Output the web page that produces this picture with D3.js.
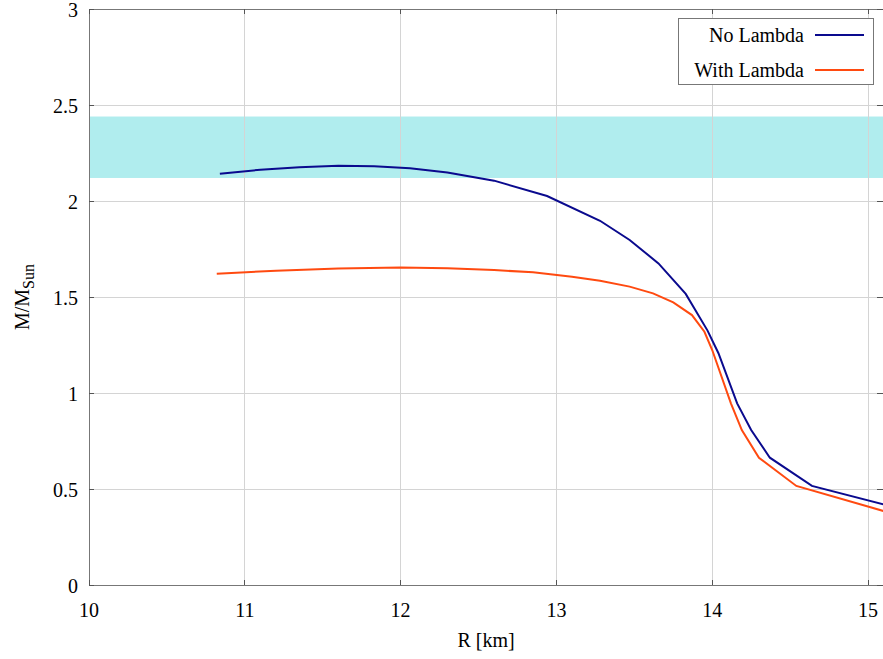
<!DOCTYPE html>
<html><head><meta charset="utf-8">
<script src="https://cdn.jsdelivr.net/npm/d3@7"></script>
<style>html,body{margin:0;padding:0;background:#fff;}svg{display:block;font-family:"Liberation Serif","DejaVu Serif",serif;}</style>
</head><body><svg id="c" width="883" height="659"></svg>
<script>
const xTicks = [10, 11, 12, 13, 14, 15];
const yTicks = [0, 0.5, 1, 1.5, 2, 2.5, 3];
const yTickLabels = ["0", "0.5", "1", "1.5", "2", "2.5", "3"];
const seriesNames = ["No Lambda", "With Lambda"];
const noLambdaR = [10.84, 11.1, 11.35, 11.6, 11.83, 12.06, 12.3, 12.6, 12.94, 13.28, 13.47, 13.655, 13.83, 13.97, 14.04, 14.16, 14.25, 14.37, 14.64, 15.1];
const noLambdaM = [2.142, 2.163, 2.176, 2.184, 2.181, 2.170, 2.149, 2.106, 2.026, 1.897, 1.797, 1.675, 1.516, 1.325, 1.207, 0.946, 0.807, 0.663, 0.516, 0.420];
const withLambdaR = [10.82, 11.2, 11.6, 12.0, 12.3, 12.6, 12.85, 13.1, 13.28, 13.47, 13.62, 13.75, 13.87, 13.95, 14.0, 14.12, 14.19, 14.30, 14.54, 15.1];
const withLambdaM = [1.621, 1.637, 1.648, 1.653, 1.650, 1.640, 1.629, 1.606, 1.585, 1.554, 1.519, 1.472, 1.406, 1.319, 1.224, 0.946, 0.807, 0.663, 0.516, 0.385];
const bandLow = 2.12, bandHigh = 2.44;

const svg = d3.select("#c");
const L = 89, R = 883.6, T = 9, B = 585;
const x = d3.scaleLinear().domain([10, 15.1]).range([L, R]);
const y = d3.scaleLinear().domain([0, 3]).range([B, T]);
const W = 883, fs = 20;

svg.append("defs").append("clipPath").attr("id","pc").append("rect")
  .attr("x", L).attr("y", T).attr("width", W - L).attr("height", B - T);

// band
svg.append("rect").attr("x", L).attr("width", W - L)
  .attr("y", y(bandHigh)).attr("height", y(bandLow) - y(bandHigh))
  .attr("fill", "#b0edee");

// grid
svg.append("g").selectAll("line").data(xTicks.slice(1)).join("line")
  .attr("x1", d => x(d)).attr("x2", d => x(d)).attr("y1", T).attr("y2", B)
  .attr("stroke", "#d4d4d4").attr("stroke-width", 1).attr("shape-rendering","crispEdges");
svg.append("g").selectAll("line").data(yTicks.slice(1, -1)).join("line")
  .attr("y1", d => y(d)).attr("y2", d => y(d)).attr("x1", L).attr("x2", W)
  .attr("stroke", "#d4d4d4").attr("stroke-width", 1).attr("shape-rendering","crispEdges");

// axes frame
const frame = svg.append("g").attr("stroke", "#777").attr("stroke-width", 1).attr("shape-rendering","crispEdges");
frame.append("line").attr("x1", L).attr("x2", W).attr("y1", B).attr("y2", B);
frame.append("line").attr("x1", L).attr("x2", W).attr("y1", T).attr("y2", T);
frame.append("line").attr("x1", L).attr("x2", L).attr("y1", T).attr("y2", B);
// inward ticks
const tk = svg.append("g").attr("stroke", "#555").attr("stroke-width", 1).attr("shape-rendering","crispEdges");
xTicks.forEach(v => {
  tk.append("line").attr("x1", x(v)).attr("x2", x(v)).attr("y1", B).attr("y2", B - 5);
  tk.append("line").attr("x1", x(v)).attr("x2", x(v)).attr("y1", T).attr("y2", T + 5);
});
yTicks.forEach(v => {
  tk.append("line").attr("x1", L).attr("x2", L + 5).attr("y1", y(v)).attr("y2", y(v));
  tk.append("line").attr("x1", W - 6).attr("x2", W).attr("y1", y(v)).attr("y2", y(v));
});

// tick labels
svg.append("g").selectAll("text").data(xTicks).join("text")
  .attr("x", d => x(d)).attr("y", 617).attr("text-anchor", "middle")
  .attr("font-size", fs).attr("fill", "#000").text(d => d);
svg.append("g").selectAll("text").data(yTicks).join("text")
  .attr("x", 78).attr("y", d => y(d)).attr("dy", "0.4em").attr("text-anchor", "end")
  .attr("font-size", fs).attr("fill", "#000").text((d, i) => yTickLabels[i]);

// axis titles
svg.append("text").attr("x", 486).attr("y", 647).attr("text-anchor", "middle")
  .attr("font-size", fs).text("R [km]");
const yt = svg.append("text").attr("transform", "translate(29," + 297 + ") rotate(-90)")
  .attr("text-anchor", "middle").attr("font-size", fs);
yt.append("tspan").text("M/M");
yt.append("tspan").attr("dy", 5).attr("font-size", 16).text("Sun");

// lines
const line = d3.line().x(d => x(d[0])).y(d => y(d[1]));
const g = svg.append("g").attr("clip-path", "url(#pc)");
g.append("path").datum(noLambdaR.map((r, i) => [r, noLambdaM[i]]))
  .attr("d", line).attr("fill", "none").attr("stroke", "#0a0a8e").attr("stroke-width", 2);
g.append("path").datum(withLambdaR.map((r, i) => [r, withLambdaM[i]]))
  .attr("d", line).attr("fill", "none").attr("stroke", "#ff4a10").attr("stroke-width", 2);

// legend
const lg = svg.append("g");
lg.append("rect").attr("x", 678.5).attr("y", 18.5).attr("width", 195).attr("height", 66)
  .attr("fill", "#fff").attr("stroke", "#777").attr("stroke-width", 1);
const colors = ["#0a0a8e", "#ff4a10"];
seriesNames.forEach((n, i) => {
  const cy = 35 + i * 35;
  lg.append("text").attr("x", 804).attr("y", cy).attr("dy", "0.35em").attr("text-anchor", "end")
    .attr("font-size", fs).text(n);
  lg.append("line").attr("x1", 815).attr("x2", 864).attr("y1", cy).attr("y2", cy)
    .attr("stroke", colors[i]).attr("stroke-width", 2);
});
</script></body></html>
